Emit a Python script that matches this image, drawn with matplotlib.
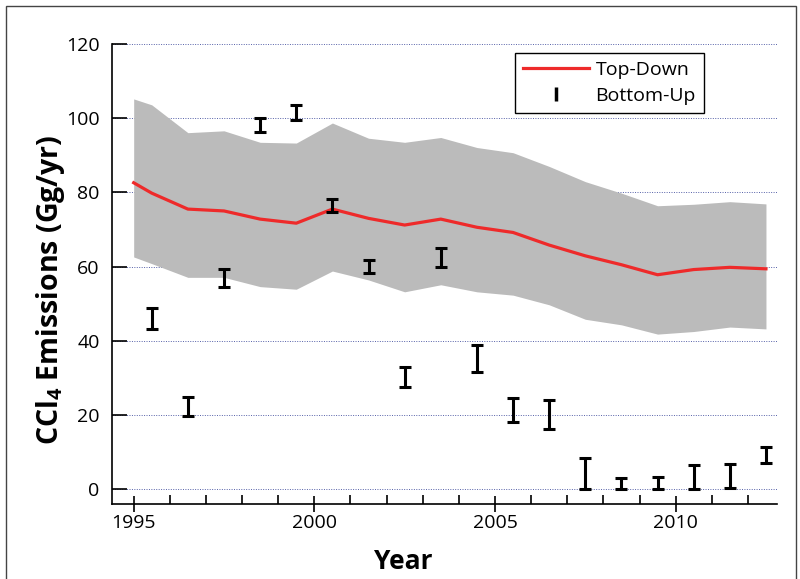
import numpy as np
import matplotlib
matplotlib.use("Agg")
import matplotlib.pyplot as plt
from matplotlib.lines import Line2D
from matplotlib.patches import Rectangle

plt.rcParams["font.family"] = ["Open Sans", "DejaVu Sans"]
plt.rcParams["mathtext.fontset"] = "custom"
plt.rcParams["mathtext.rm"] = "Open Sans"
plt.rcParams["mathtext.bf"] = "Open Sans:bold"

# ---------------- data ----------------
# Top-down estimate (red line) with its uncertainty band (grey)
td_years = [1995.0, 1995.5, 1996.5, 1997.5, 1998.5, 1999.5, 2000.5, 2001.5, 2002.5,
            2003.5, 2004.5, 2005.5, 2006.5, 2007.5, 2008.5, 2009.5, 2010.5, 2011.5, 2012.5]
td_mean = [82.6, 79.8, 75.5, 75.0, 72.8, 71.7, 75.5, 73.0, 71.2,
           72.8, 70.6, 69.2, 65.8, 62.9, 60.5, 57.8, 59.2, 59.8, 59.4]
td_upper = [105.2, 103.6, 96.1, 96.6, 93.5, 93.3, 98.7, 94.6, 93.5,
            94.8, 92.1, 90.7, 87.0, 82.9, 79.8, 76.4, 76.8, 77.5, 76.9]
td_lower = [62.6, 60.8, 57.1, 57.1, 54.6, 53.9, 58.8, 56.4, 53.2,
            55.1, 53.2, 52.3, 49.7, 45.8, 44.3, 41.8, 42.5, 43.7, 43.2]

# Bottom-up estimates (black error bars): low / high of each bar
bu_years = [1995.5, 1996.5, 1997.5, 1998.5, 1999.5, 2000.5, 2001.5, 2002.5, 2003.5,
            2004.5, 2005.5, 2006.5, 2007.5, 2008.5, 2009.5, 2010.5, 2011.5, 2012.5]
bu_low = [43.1, 19.8, 54.6, 96.4, 99.4, 74.8, 58.4, 27.5, 60.0,
          31.7, 18.0, 16.3, 0.0, 0.0, 0.0, 0.0, 0.3, 7.0]
bu_high = [48.8, 24.8, 59.4, 100.0, 103.6, 78.2, 61.8, 33.0, 65.0,
           38.9, 24.7, 24.0, 8.5, 3.0, 3.4, 6.5, 6.7, 11.3]

y_ticks = [0, 20, 40, 60, 80, 100, 120]
x_major = [1995, 2000, 2005, 2010]
x_minor = list(range(1996, 2013))

# ---------------- figure ----------------
fig = plt.figure(figsize=(8.0, 5.79), dpi=100)
ax = fig.add_axes([0.14, 0.1295, 0.831, 0.7945])

ax.fill_between(td_years, td_lower, td_upper, color="#bbbbbb", linewidth=0, zorder=2)
ax.plot(td_years, td_mean, color="#ee2a2a", linewidth=2.3, zorder=3)

bu_low = np.array(bu_low)
bu_high = np.array(bu_high)
mid = (bu_low + bu_high) / 2
half = (bu_high - bu_low) / 2
ax.errorbar(bu_years, mid, yerr=half, fmt="none", ecolor="black",
            elinewidth=2.2, capsize=4.5, capthick=2.2, zorder=4)

ax.set_xlim(1994.4, 2012.8)
ax.set_ylim(-4, 120)
ax.set_yticks(y_ticks)
ax.set_xticks(x_major)
ax.set_xticks(x_minor, minor=True)

for s in ["top", "right"]:
    ax.spines[s].set_visible(False)
for s in ["left", "bottom"]:
    ax.spines[s].set_linewidth(1.2)

ax.tick_params(axis="y", direction="in", length=11, width=1.2, labelsize=14, pad=9)
ax.tick_params(axis="x", which="major", direction="inout", length=12, width=1.2,
               labelsize=14, pad=1.5)
ax.tick_params(axis="x", which="minor", direction="in", length=6.5, width=1.2)

ax.grid(axis="y", linestyle=(0, (1, 1.5)), color="#5560a8", linewidth=0.7, zorder=1)
ax.set_axisbelow(True)

ax.set_xlabel("Year", fontsize=19, fontweight="bold")
ax.xaxis.label.set_va("center")
ax.xaxis.set_label_coords(0.4376, -0.124)
ax.set_ylabel(r"CCl$_\mathbf{4}$ Emissions (Gg/yr)", fontsize=20.5, fontweight="bold")
ax.yaxis.label.set_va("center")
ax.yaxis.set_label_coords(-0.093, 0.465)

handles = [
    Line2D([], [], color="#ee2a2a", linewidth=2.3),
    Line2D([], [], color="black", marker="|", linestyle="none", markersize=10,
           markeredgewidth=2.5),
]
leg = ax.legend(handles, ["Top-Down", "Bottom-Up"], loc="upper right",
                bbox_to_anchor=(0.89, 0.98), borderaxespad=0, fontsize=14,
                frameon=True, fancybox=False, edgecolor="black", handlelength=3.4,
                borderpad=0.4, labelspacing=0.42, handletextpad=0.35)
leg.get_frame().set_linewidth(1.0)
leg.get_frame().set_alpha(1)

# thin frame around the whole picture
fig.add_artist(Rectangle((0.0075, -0.05), 0.9875, 1.0396, transform=fig.transFigure,
                         fill=False, edgecolor="#444444", linewidth=1.0))

fig.savefig("out.png", dpi=100)
